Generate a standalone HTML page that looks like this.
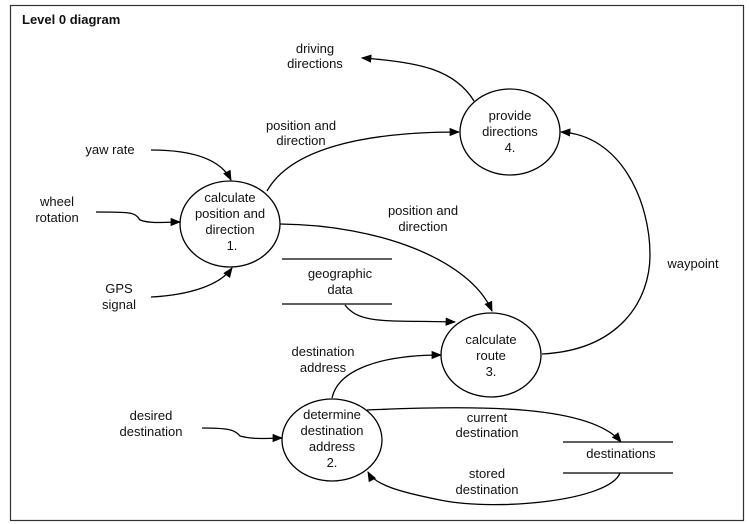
<!DOCTYPE html>
<html><head><meta charset="utf-8"><style>
html,body{margin:0;padding:0;background:#fff;}
svg{display:block;}
text{font-family:"Liberation Sans",sans-serif;font-size:13px;fill:#111;}
</style></head><body>
<svg width="749" height="524" viewBox="0 0 749 524" xmlns="http://www.w3.org/2000/svg">
<defs><marker id="a" viewBox="0 0 10 10" refX="9" refY="5" markerWidth="8" markerHeight="8" orient="auto"><path d="M0,1 L10,5 L0,9 z" fill="#000"/></marker></defs>
<rect x="10.5" y="5.5" width="733" height="515" fill="none" stroke="#333" stroke-width="1.2"/>
<text x="22" y="24" style="font-weight:bold">Level 0 diagram</text>
<g fill="none" stroke="#000" stroke-width="1.3">
<ellipse cx="230" cy="224" rx="50" ry="43"/>
<ellipse cx="510" cy="132" rx="50" ry="43"/>
<ellipse cx="491" cy="355" rx="50" ry="42"/>
<ellipse cx="332" cy="440" rx="50" ry="41"/>
<line x1="282" y1="259" x2="392" y2="259"/><line x1="282" y1="304" x2="392" y2="304"/>
<line x1="563" y1="442" x2="673" y2="442"/><line x1="563" y1="473" x2="673" y2="473"/>
<g marker-end="url(#a)">
<path d="M474,101 C455,70 420,62 362,58"/>
<path d="M151,150 C190,150 220,158 231,180"/>
<path d="M96,212 C130,212 135,212 140,220 C150,224 165,222 180,222"/>
<path d="M151,297 C190,295 220,285 232,268"/>
<path d="M267,191 C290,150 360,132 459,132"/>
<path d="M280,224 C380,225 470,260 492,311"/>
<path d="M345,305 C360,325 390,320 455,322"/>
<path d="M332,398 C338,370 380,355 441,355"/>
<path d="M542,354 C620,350 650,300 650,255 C650,200 620,135 561,132"/>
<path d="M202,428 C230,428 235,430 240,436 C255,440 270,438 282,438"/>
<path d="M367,410 C480,405 590,405 621,442"/>
<path d="M620,473 C610,500 500,512 440,500 C400,492 375,485 368,472"/>
</g></g>
<g text-anchor="middle">
<text x="230" y="202">calculate</text><text x="230" y="218">position and</text><text x="230" y="234">direction</text><text x="232" y="250">1.</text>
<text x="510" y="120">provide</text><text x="510" y="136">directions</text><text x="510" y="152">4.</text>
<text x="491" y="344">calculate</text><text x="491" y="360">route</text><text x="491" y="376">3.</text>
<text x="332" y="419">determine</text><text x="332" y="435">destination</text><text x="332" y="451">address</text><text x="332" y="467">2.</text>
<text x="315" y="53">driving</text><text x="315" y="68">directions</text>
<text x="301" y="130">position and</text><text x="301" y="145">direction</text>
<text x="110" y="154">yaw rate</text>
<text x="57" y="206">wheel</text><text x="57" y="222">rotation</text>
<text x="119" y="293">GPS</text><text x="119" y="309">signal</text>
<text x="423" y="215">position and</text><text x="423" y="231">direction</text>
<text x="340" y="278">geographic</text><text x="340" y="294">data</text>
<text x="693" y="268">waypoint</text>
<text x="323" y="356">destination</text><text x="323" y="372">address</text>
<text x="151" y="420">desired</text><text x="151" y="436">destination</text>
<text x="487" y="422">current</text><text x="487" y="437">destination</text>
<text x="621" y="458">destinations</text>
<text x="487" y="478">stored</text><text x="487" y="494">destination</text>
</g>
</svg>
</body></html>
